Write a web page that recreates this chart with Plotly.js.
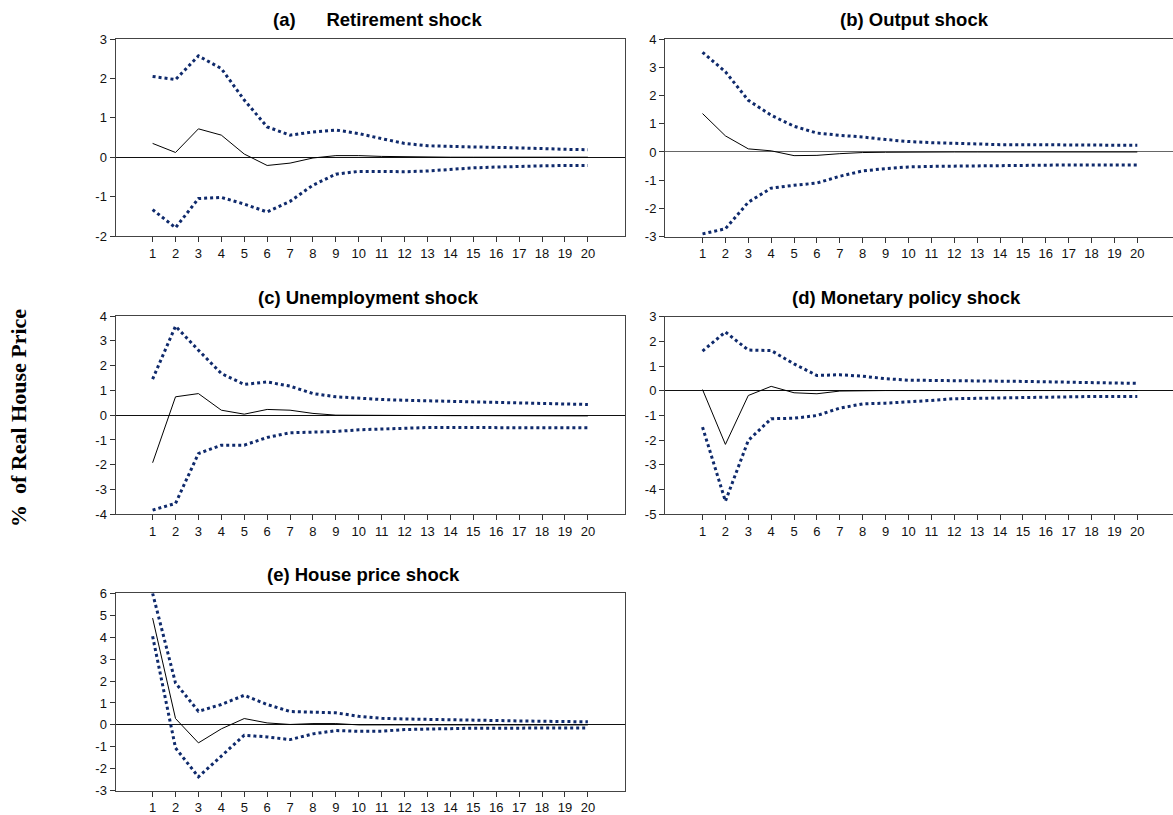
<!DOCTYPE html>
<html>
<head>
<meta charset="utf-8">
<script src="https://cdn.plot.ly/plotly-3.0.1.min.js"></script>
<style>html,body{margin:0;padding:0;background:#fff;}#chart{width:1173px;height:815px;}</style>
</head>
<body>
<div id="chart"></div>
<script>
const periods = [1,2,3,4,5,6,7,8,9,10,11,12,13,14,15,16,17,18,19,20];

const titles = ["(a)\u00a0\u00a0\u00a0\u00a0\u00a0\u00a0Retirement shock", "(b) Output shock", "(c) Unemployment shock", "(d) Monetary policy shock", "(e) House price shock"];

const aUpper = [2.05,1.97,2.57,2.25,1.45,0.77,0.56,0.64,0.69,0.60,0.47,0.35,0.29,0.27,0.26,0.25,0.24,0.22,0.20,0.19];
const aMid   = [0.35,0.12,0.72,0.56,0.08,-0.21,-0.15,-0.02,0.04,0.04,0.02,0.01,0.0,0.0,0.0,0.0,0.0,0.0,0.0,0.0];
const aLower = [-1.33,-1.79,-1.05,-1.02,-1.19,-1.39,-1.12,-0.71,-0.43,-0.36,-0.36,-0.37,-0.35,-0.31,-0.27,-0.25,-0.23,-0.22,-0.21,-0.21];

const bUpper = [3.53,2.84,1.83,1.30,0.91,0.67,0.59,0.53,0.44,0.37,0.33,0.30,0.27,0.26,0.26,0.25,0.25,0.24,0.24,0.24];
const bMid   = [1.36,0.57,0.11,0.04,-0.13,-0.12,-0.06,-0.02,-0.01,0.0,0.0,0.0,0.0,0.0,0.0,0.0,0.0,0.0,0.0,0.0];
const bLower = [-2.90,-2.72,-1.78,-1.28,-1.18,-1.10,-0.86,-0.67,-0.59,-0.53,-0.51,-0.50,-0.49,-0.47,-0.46,-0.46,-0.46,-0.46,-0.46,-0.46];

const cUpper = [1.45,3.59,2.62,1.68,1.24,1.34,1.17,0.87,0.74,0.67,0.63,0.60,0.58,0.56,0.54,0.51,0.50,0.48,0.47,0.43];
const cMid   = [-1.92,0.74,0.87,0.20,0.04,0.23,0.20,0.07,0.0,-0.01,-0.01,-0.01,-0.01,-0.02,-0.02,-0.02,-0.02,-0.03,-0.03,-0.03];
const cLower = [-3.83,-3.56,-1.55,-1.21,-1.21,-0.90,-0.71,-0.70,-0.66,-0.59,-0.55,-0.51,-0.50,-0.50,-0.50,-0.51,-0.51,-0.51,-0.51,-0.51];

const dUpper = [1.61,2.38,1.65,1.63,1.09,0.62,0.65,0.59,0.49,0.43,0.42,0.42,0.40,0.39,0.38,0.36,0.35,0.34,0.31,0.30];
const dMid   = [0.05,-2.17,-0.19,0.18,-0.08,-0.12,-0.01,0.01,0.01,0.01,0.01,0.01,0.01,0.01,0.01,0.01,0.01,0.01,0.01,0.01];
const dLower = [-1.47,-4.47,-2.01,-1.13,-1.11,-1.00,-0.70,-0.53,-0.50,-0.46,-0.39,-0.32,-0.30,-0.28,-0.26,-0.24,-0.23,-0.23,-0.23,-0.23];

const eUpper = [6.0,1.91,0.62,0.93,1.35,0.93,0.61,0.58,0.55,0.39,0.30,0.27,0.26,0.24,0.21,0.20,0.18,0.17,0.15,0.14];
const eMid   = [4.87,0.29,-0.82,-0.18,0.29,0.09,0.02,0.06,0.06,0.0,0.0,0.0,0.0,0.0,0.0,0.0,0.0,0.0,0.0,0.0];
const eLower = [4.04,-1.05,-2.37,-1.43,-0.47,-0.55,-0.67,-0.41,-0.26,-0.29,-0.29,-0.21,-0.18,-0.17,-0.15,-0.15,-0.14,-0.14,-0.14,-0.14];

const yTicksA = [-2,-1,0,1,2,3];
const yTicksB = [-3,-2,-1,0,1,2,3,4];
const yTicksC = [-4,-3,-2,-1,0,1,2,3,4];
const yTicksD = [-5,-4,-3,-2,-1,0,1,2,3];
const yTicksE = [-3,-2,-1,0,1,2,3,4,5,6];

const yLabel = "%\u00a0\u00a0of Real House Price";

const W = 1173, H = 815;
const panels = [
  {up:aUpper, mid:aMid, lo:aLower, yt:yTicksA, px:[115.5,625], py:[39,236], xr:[-0.62,21.62], tc:377},
  {up:bUpper, mid:bMid, lo:bLower, yt:yTicksB, px:[665,1173], py:[39,236.7], xr:[-0.64,21.56], tc:914},
  {up:cUpper, mid:cMid, lo:cLower, yt:yTicksC, px:[115.5,625], py:[316,514.3], xr:[-0.62,21.62], tc:368},
  {up:dUpper, mid:dMid, lo:dLower, yt:yTicksD, px:[665,1173], py:[316.7,514.3], xr:[-0.64,21.56], tc:907},
  {up:eUpper, mid:eMid, lo:eLower, yt:yTicksE, px:[115.5,625], py:[593.3,790.7], xr:[-0.62,21.62], tc:363}
];

const dotColor = '#0f2a6c';
const tickFont = {family:'Arial, "Liberation Sans", sans-serif', size:13, color:'#111'};
const data = [];
const layout = {
  width: W, height: H,
  margin: {l:0, r:0, t:0, b:0},
  paper_bgcolor: '#fff', plot_bgcolor: '#fff',
  showlegend: false,
  annotations: []
};

panels.forEach((p, i) => {
  const n = i + 1;
  const xa = 'x' + (n === 1 ? '' : n), ya = 'y' + (n === 1 ? '' : n);
  const xk = 'xaxis' + (n === 1 ? '' : n), yk = 'yaxis' + (n === 1 ? '' : n);
  [p.up, p.lo].forEach(arr => data.push({
    x: periods, y: arr, xaxis: xa, yaxis: ya, type: 'scatter', mode: 'lines',
    line: {color: dotColor, width: 3, dash: 'dot'}, hoverinfo: 'skip', cliponaxis: false
  }));
  data.push({
    x: periods, y: p.mid, xaxis: xa, yaxis: ya, type: 'scatter', mode: 'lines',
    line: {color: '#000', width: 1}, hoverinfo: 'skip'
  });
  layout[xk] = {
    domain: [p.px[0] / W, p.px[1] / W], anchor: ya, range: p.xr,
    tickvals: periods, ticktext: periods.map(String), tickfont: tickFont,
    ticks: 'outside', ticklen: 5, tickcolor: '#333', tickwidth: 1,
    showline: true, linecolor: '#444', linewidth: 1, mirror: true,
    showgrid: false, zeroline: false, fixedrange: true
  };
  layout[yk] = {
    domain: [1 - p.py[1] / H, 1 - p.py[0] / H], anchor: xa,
    range: [p.yt[0], p.yt[p.yt.length - 1]],
    tickvals: p.yt, ticktext: p.yt.map(String), tickfont: tickFont,
    ticks: 'outside', ticklen: 5, tickcolor: '#333', tickwidth: 1,
    showline: true, linecolor: '#444', linewidth: 1, mirror: true,
    showgrid: false, zeroline: true, zerolinecolor: (n === 2 ? '#666' : '#111'), zerolinewidth: 1,
    fixedrange: true
  };
  layout.annotations.push({
    text: titles[i], xref: 'paper', yref: 'paper',
    x: p.tc / W, y: 1 - (p.py[0] - 19) / H, xanchor: 'center', yanchor: 'middle',
    showarrow: false,
    font: {family: 'Arial, "Liberation Sans", sans-serif', size: 18.5, weight: 'bold', color: '#000'}
  });
});

layout.annotations.push({
  text: yLabel, xref: 'paper', yref: 'paper', x: 18 / W, y: 1 - 418 / H,
  xanchor: 'center', yanchor: 'middle', textangle: -90, showarrow: false,
  font: {family: '"Times New Roman", "Liberation Serif", serif', size: 22, weight: 'bold', color: '#000'}
});

Plotly.newPlot('chart', data, layout, {staticPlot: true, displayModeBar: false});
</script>
</body>
</html>
